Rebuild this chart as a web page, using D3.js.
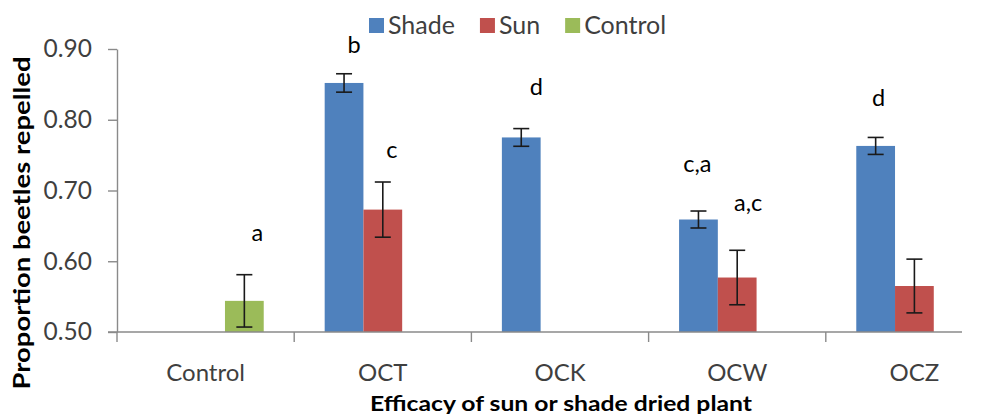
<!DOCTYPE html>
<html>
<head>
<meta charset="utf-8">
<script src="https://cdn.jsdelivr.net/npm/d3@7"></script>
<style>
  html, body { margin: 0; padding: 0; background: #fff; }
  svg { display: block; }
  text { font-family: Lato, "Open Sans", sans-serif; }
</style>
</head>
<body>
<div id="chart"></div>
<script>
// ---------------- DATA ----------------
const categories = ["Control", "OCT", "OCK", "OCW", "OCZ"];
const seriesNames = ["Shade", "Sun", "Control"];
const shadeValues = [null, 0.852, 0.775, 0.659, 0.763];
const shadeErrors = [null, 0.013, 0.0125, 0.012, 0.012];
const sunValues = [null, 0.673, null, 0.577, 0.565];
const sunErrors = [null, 0.039, null, 0.0385, 0.038];
const controlValues = [0.544, null, null, null, null];
const controlErrors = [0.037, null, null, null, null];
const yTicks = [0.50, 0.60, 0.70, 0.80, 0.90];
// significance letters: text, series, category, height (data units of label baseline)
const letterTexts = ["a", "b", "c", "d", "c,a", "a,c", "d"];
const letterSeries = ["Control", "Shade", "Sun", "Shade", "Shade", "Sun", "Shade"];
const letterCategories = ["Control", "OCT", "OCT", "OCK", "OCW", "OCW", "OCZ"];
const letterHeights = [0.629, 0.894, 0.746, 0.835, 0.726, 0.671, 0.819];
const yTitle = "Proportion  beetles repelled";
const xTitle = "Efficacy of sun or shade dried plant";

// ---------------- LAYOUT / STYLE ----------------
const W = 992, H = 414;
const colors = { Shade: "#4F81BD", Sun: "#C0504D", Control: "#9BBB59" };
const axisColor = "#8a8a8a";
const letterNudge = [13, 10, 9, 15, -1, 11, 3];

const svg = d3.select("#chart").append("svg")
  .attr("width", W).attr("height", H);

const x = d3.scaleBand().domain(categories).range([117, 1003]).paddingInner(0).paddingOuter(0);
const bw = x.bandwidth();
const xs = d3.scaleBand().domain(seriesNames).range([bw * 0.172, bw * 0.828]).padding(0);
const y = d3.scaleLinear().domain([0.5, 0.9]).range([332, 49]);

const seriesData = {
  Shade: { v: shadeValues, e: shadeErrors },
  Sun: { v: sunValues, e: sunErrors },
  Control: { v: controlValues, e: controlErrors }
};

const records = [];
seriesNames.forEach(s => {
  categories.forEach((c, i) => {
    const v = seriesData[s].v[i];
    if (v != null) records.push({ s, c, v, e: seriesData[s].e[i] });
  });
});

// bars
svg.append("g").selectAll("rect").data(records).join("rect")
  .attr("x", d => x(d.c) + xs(d.s))
  .attr("width", xs.bandwidth())
  .attr("y", d => y(d.v))
  .attr("height", d => y(0.5) - y(d.v))
  .attr("fill", d => colors[d.s]);

// error bars
const eg = svg.append("g").attr("stroke", "#1a1a1a").attr("stroke-width", 1.6);
records.forEach(d => {
  const cx = x(d.c) + xs(d.s) + xs.bandwidth() / 2;
  eg.append("line").attr("x1", cx).attr("x2", cx).attr("y1", y(d.v + d.e)).attr("y2", y(d.v - d.e));
  [d.v + d.e, d.v - d.e].forEach(t => {
    eg.append("line").attr("x1", cx - 8).attr("x2", cx + 8).attr("y1", y(t)).attr("y2", y(t));
  });
});

// y axis
const yAxis = svg.append("g").attr("transform", "translate(117,0)")
  .call(d3.axisLeft(y).tickValues(yTicks).tickFormat(d3.format(".2f")).tickSize(9).tickSizeOuter(0).tickPadding(16));
yAxis.selectAll("path, line").attr("stroke", axisColor).attr("stroke-width", 1.4);
yAxis.selectAll("text").attr("font-size", 24.5).attr("fill", "#3f3f3f").attr("font-family", "Lato");

// x axis
const xAxis = svg.append("g").attr("transform", "translate(0,332)")
  .call(d3.axisBottom(x).tickSize(0).tickPadding(32));
xAxis.select(".domain").remove();
xAxis.selectAll("text").attr("font-size", 24).attr("fill", "#3f3f3f").attr("font-family", "Lato");
svg.append("line").attr("x1", 108).attr("x2", 962).attr("y1", y(0.5)).attr("y2", y(0.5))
  .attr("stroke", axisColor).attr("stroke-width", 1.4);
const sepX = categories.map(c => x(c));
svg.append("g").selectAll("line").data(sepX).join("line")
  .attr("x1", d => d).attr("x2", d => d)
  .attr("y1", y(0.5)).attr("y2", y(0.5) + 10)
  .attr("stroke", axisColor).attr("stroke-width", 1.4);

// letters
svg.append("g").selectAll("text").data(letterTexts).join("text")
  .attr("x", (t, i) => x(letterCategories[i]) + xs(letterSeries[i]) + xs.bandwidth() / 2 + letterNudge[i])
  .attr("y", (t, i) => y(letterHeights[i]))
  .attr("text-anchor", "middle")
  .attr("font-size", 23.5)
  .attr("fill", "#000")
  .text(t => t);

// legend
const lg = svg.append("g");
let lx = 369;
seriesNames.forEach(s => {
  lg.append("rect").attr("x", lx).attr("y", 18).attr("width", 15).attr("height", 15).attr("fill", colors[s]);
  const t = lg.append("text").attr("x", lx + 19).attr("y", 34).attr("font-size", 25).attr("fill", "#3f3f3f").text(s);
  lx += 19 + t.node().getComputedTextLength() + 25;
});

// axis titles
svg.append("text")
  .attr("transform", "translate(30,223) rotate(-90)")
  .attr("text-anchor", "middle")
  .attr("font-size", 22).attr("font-weight", "bold").attr("fill", "#000")
  .attr("textLength", 333).attr("lengthAdjust", "spacingAndGlyphs")
  .text(yTitle);
svg.append("text")
  .attr("x", 561).attr("y", 411)
  .attr("text-anchor", "middle")
  .attr("font-size", 21).attr("font-weight", "bold").attr("fill", "#000")
  .attr("textLength", 382).attr("lengthAdjust", "spacingAndGlyphs")
  .text(xTitle);
</script>
</body>
</html>
